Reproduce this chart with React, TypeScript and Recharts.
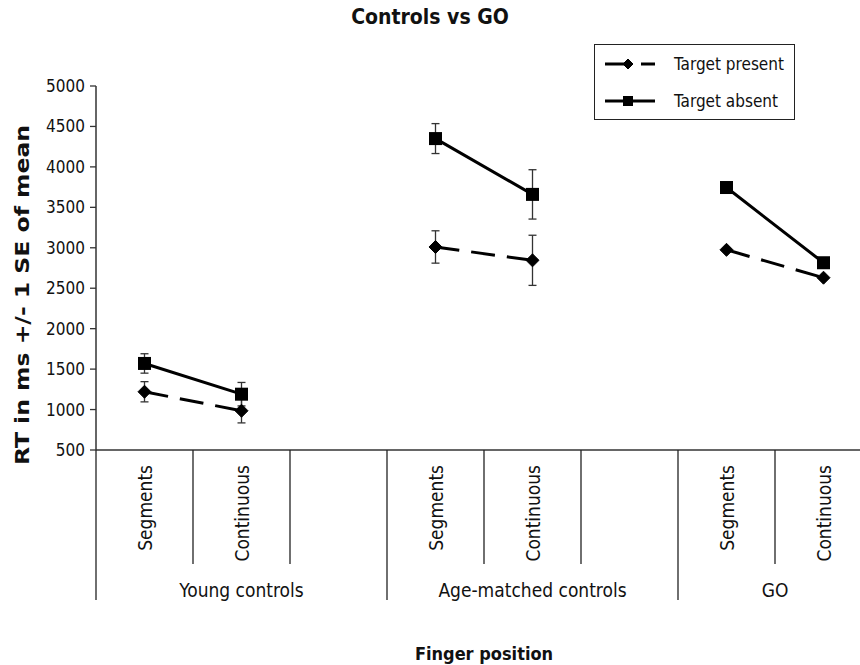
import React from "react";
import { LineChart, Line, XAxis, YAxis, ErrorBar, Legend, Label } from "recharts";

const categories = ["Segments", "Continuous", "", "Segments", "Continuous", "", "Segments", "Continuous"];
const groups = ["Young controls", "Age-matched controls", "GO"];
const groupStarts = [0, 3, 6];
const groupEnds = [3, 6, 8];
const presentMeans = [1220, 985, null, 3010, 2845, null, 2975, 2630];
const presentSE = [125, 150, null, 200, 310, null, 0, 0];
const absentMeans = [1570, 1190, null, 4350, 3660, null, 3745, 2815];
const absentSE = [120, 145, null, 185, 305, null, 0, 0];
const yTicks = [500, 1000, 1500, 2000, 2500, 3000, 3500, 4000, 4500, 5000];

const FONT = "'DejaVu Sans Condensed', 'DejaVu Sans', Verdana, sans-serif";

const data = categories.map((c, i) => ({
  pos: i + 0.5,
  cat: c,
  present: presentMeans[i],
  presentErr: presentSE[i],
  absent: absentMeans[i],
  absentErr: absentSE[i],
}));

const groupCenters = groupStarts.map((s, i) => (s + groupEnds[i]) / 2);
const xTicks = Array.from(
  new Set([
    ...Array.from({ length: categories.length + 1 }, (_, i) => i),
    ...categories.map((_, i) => i + 0.5),
    ...groupCenters,
  ])
).sort((a, b) => a - b);

const XTick = (props: any) => {
  const { x, y, payload } = props;
  const v = payload.value as number;
  const els: React.ReactNode[] = [];
  if (Number.isInteger(v)) {
    const long = groupStarts.includes(v) || groupEnds.includes(v);
    els.push(
      <line key="l" x1={x} x2={x} y1={y} y2={y + (long ? 150 : 114)} stroke="#222" strokeWidth={1.3} />
    );
  } else {
    const k = Math.floor(v);
    const label = categories[k];
    if (label) {
      els.push(
        <text
          key="c"
          x={x}
          y={y + 15}
          transform={`rotate(-90, ${x}, ${y + 15})`}
          textAnchor="end"
          dominantBaseline="central"
          fontSize={19}
          fontFamily={FONT}
          fill="#111"
        >
          {label}
        </text>
      );
    }
  }
  const gi = groupCenters.indexOf(v);
  if (gi >= 0) {
    els.push(
      <text key="g" x={x} y={y + 147} textAnchor="middle" fontSize={19} fontFamily={FONT} fill="#111">
        {groups[gi]}
      </text>
    );
  }
  return <g>{els}</g>;
};

const Diamond = ({ cx, cy, r }: any) => {
  if (cx == null || cy == null) return null;
  return (
    <polygon
      points={`${cx},${cy - r} ${cx + r},${cy} ${cx},${cy + r} ${cx - r},${cy}`}
      fill="#000"
      stroke="#000"
    />
  );
};

const Square = ({ cx, cy, r }: any) => {
  if (cx == null || cy == null) return null;
  return <rect x={cx - r} y={cy - r} width={2 * r} height={2 * r} fill="#000" />;
};

const renderLegend = () => (
  <div
    style={{
      border: "1px solid #222",
      background: "#fff",
      padding: "0 10px 0 10px",
      fontFamily: FONT,
      fontSize: 17,
      color: "#111",
    }}
  >
    {[
      { name: "Target present", dashed: true },
      { name: "Target absent", dashed: false },
    ].map((it) => (
      <div key={it.name} style={{ height: 37, display: "flex", alignItems: "center" }}>
        <svg width={50} height={14} style={{ marginRight: 19 }}>
          <line x1={0} x2={50} y1={7} y2={7} stroke="#000" strokeWidth={3} strokeDasharray={it.dashed ? "24 12" : undefined} />
          {it.dashed ? <Diamond cx={23} cy={7} r={5} /> : <Square cx={23} cy={7} r={5} />}
        </svg>
        <span style={{ whiteSpace: "nowrap" }}>{it.name}</span>
      </div>
    ))}
  </div>
);

export default function App() {
  return (
    <div style={{ position: "relative", width: 860, height: 665, overflow: "hidden", background: "#fff" }}>
      <style>{"body{margin:0}"}</style>
      <div
        style={{
          position: "absolute",
          left: 0,
          width: 860,
          top: 5,
          textAlign: "center",
          fontFamily: FONT,
          fontWeight: "bold",
          fontSize: 21,
          color: "#111",
        }}
      >
        Controls vs GO
      </div>
      <LineChart width={900} height={665} data={data} margin={{ top: 86, right: 28, bottom: 0, left: 0 }}>
        <XAxis
          dataKey="pos"
          type="number"
          domain={[0, categories.length]}
          ticks={xTicks}
          interval={0}
          tickLine={false}
          tickSize={0}
          tickMargin={0}
          tick={<XTick />}
          height={215}
          axisLine={{ stroke: "#333", strokeWidth: 1.5 }}
          allowDecimals
        >
          <Label
            content={(p: any) => {
              const vb = p.viewBox;
              return (
                <text
                  x={vb.x + vb.width / 2}
                  y={660}
                  textAnchor="middle"
                  fontFamily={FONT}
                  fontWeight="bold"
                  fontSize={18}
                  fill="#111"
                >
                  Finger position
                </text>
              );
            }}
          />
        </XAxis>
        <YAxis
          type="number"
          domain={[500, 5000]}
          ticks={yTicks}
          interval={0}
          width={96}
          tickSize={6}
          tickMargin={5}
          tick={{ fontSize: 17, fontFamily: FONT, fill: "#111" }}
          tickLine={{ stroke: "#333", strokeWidth: 1.3 }}
          axisLine={{ stroke: "#333", strokeWidth: 1.5 }}
        >
          <Label
            content={(p: any) => {
              const vb = p.viewBox;
              const cx = 22;
              const cy = vb.y + vb.height / 2 + 27;
              return (
                <text
                  x={cx}
                  y={cy}
                  transform={`rotate(-90, ${cx}, ${cy})`}
                  textAnchor="middle"
                  dominantBaseline="central"
                  fontFamily={FONT}
                  fontWeight="bold"
                  fontSize={20}
                  textLength={340}
                  lengthAdjust="spacingAndGlyphs"
                  fill="#111"
                >
                  RT in ms +/- 1 SE of mean
                </text>
              );
            }}
          />
        </YAxis>
        <Legend
          layout="vertical"
          verticalAlign="middle"
          align="center"
          content={renderLegend}
          wrapperStyle={{ position: "absolute", left: 594, top: 44, width: "auto", height: "auto" }}
        />
        <Line
          name="Target present"
          dataKey="present"
          stroke="#000"
          strokeWidth={3}
          strokeDasharray="24 12"
          dot={(p: any) => <Diamond key={`d${p.index}`} cx={p.cx} cy={p.cy} r={6.5} />}
          activeDot={false}
          isAnimationActive={false}
        >
          <ErrorBar dataKey="presentErr" width={4} stroke="#333" strokeWidth={1.3} direction="y" />
        </Line>
        <Line
          name="Target absent"
          dataKey="absent"
          stroke="#000"
          strokeWidth={3}
          dot={(p: any) => <Square key={`s${p.index}`} cx={p.cx} cy={p.cy} r={6.5} />}
          activeDot={false}
          isAnimationActive={false}
        >
          <ErrorBar dataKey="absentErr" width={4} stroke="#333" strokeWidth={1.3} direction="y" />
        </Line>
      </LineChart>
    </div>
  );
}
